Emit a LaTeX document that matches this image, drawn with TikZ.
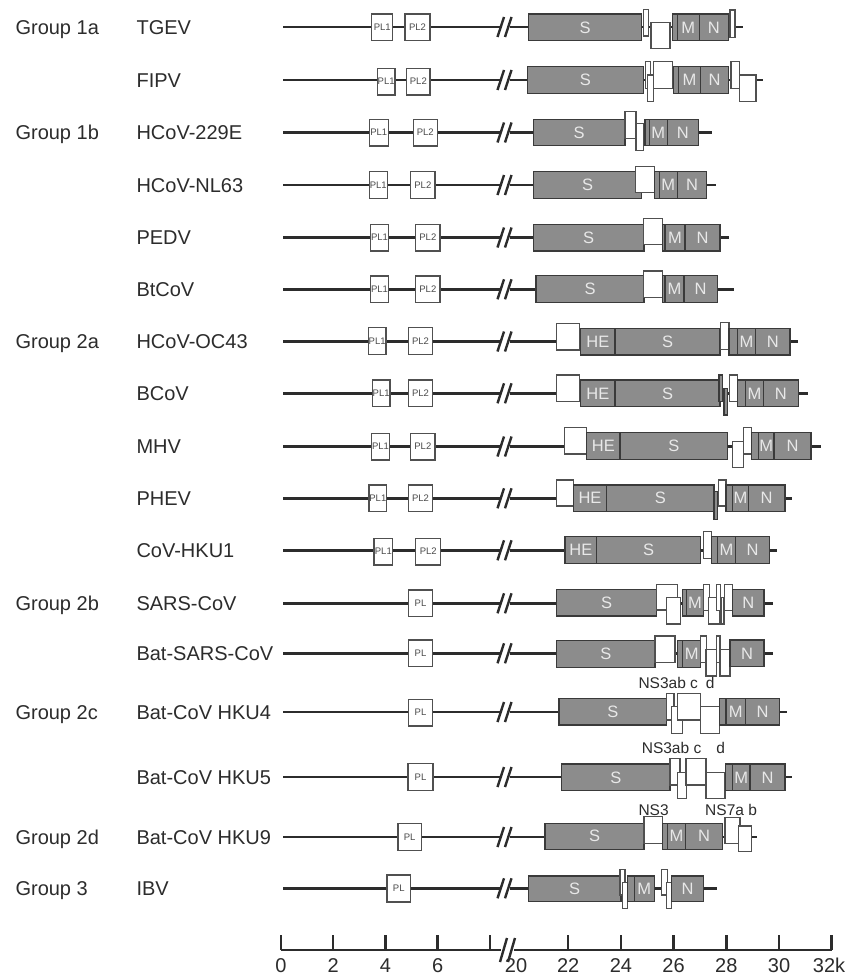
\documentclass[tikz,border=0pt]{standalone}
\usepackage{fontspec}
\setmainfont{Liberation Sans}
\usepackage{xcolor}
\usetikzlibrary{positioning}

\definecolor{ink}{HTML}{2C2C2C}
\definecolor{boxedge}{HTML}{3A3A3A}
\definecolor{orfedge}{HTML}{505050}
\definecolor{genefill}{HTML}{8C8C8C}
\definecolor{genetext}{HTML}{E8E8E8}
\definecolor{pltext}{HTML}{4A4A4A}

\newcounter{bx}
% box from x1 to x2 and y1 to y2 (y runs downwards)
\newcommand{\bx}[6][gene]{\stepcounter{bx}%
  \node[#1,minimum width={#3-#2},minimum height={#5-#4}] (bx\arabic{bx}) at ({(#2+#3)/2},{(#4+#5)/2}) {#6};}
% genome line with the break
\newcommand{\genome}[2]{%
  \draw[genome] (283,#1) -- (501,#1) (510,#1) -- (#2,#1);
  \draw[brk] (497.5,#1+10) -- (504,#1-10) (505,#1+10) -- (511.5,#1-10);}

\begin{document}
\begin{tikzpicture}[x=1pt,y=-1pt,
  genome/.style={draw=ink,line width=2.5pt},
  brk/.style={draw=ink,line width=2.4pt},
  gene/.style={draw=boxedge,fill=genefill,line width=1.2pt,inner sep=0pt,text=genetext,font=\fontsize{16.5}{16.5}\selectfont},
  orf/.style={draw=orfedge,fill=white,line width=1.2pt,inner sep=0pt},
  pl/.style={orf,text=pltext,font=\fontsize{9.5}{9.5}\selectfont},
  grp/.style={anchor=base west,text=ink,font=\fontsize{20}{20}\selectfont},
  nslab/.style={anchor=base west,text=ink,font=\fontsize{15.5}{15.5}\selectfont},
  ticklab/.style={anchor=base,text=ink,font=\fontsize{20}{20}\selectfont}]
\useasboundingbox[fill=white] (0,0) rectangle (847,977);

% group and virus names
\node[grp] (g1a) at (12,34) {Group 1a};
\node[grp] (g1b) at (12,139.5) {Group 1b};
\node[grp] (g2a) at (12,348.5) {Group 2a};
\node[grp] (g2b) at (12,610.3) {Group 2b};
\node[grp] (g2c) at (12,719) {Group 2c};
\node[grp] (g2d) at (12,844) {Group 2d};
\node[grp] (g3) at (12,895.3) {Group 3};
\node[grp] (tgev) at (133,34) {TGEV};
\node[grp] (fipv) at (133,87) {FIPV};
\node[grp] (e229) at (133,139.5) {HCoV-229E};
\node[grp] (nl63) at (133,192) {HCoV-NL63};
\node[grp] (pedv) at (133,244.5) {PEDV};
\node[grp] (btcov) at (133,296.3) {BtCoV};
\node[grp] (oc43) at (133,348.5) {HCoV-OC43};
\node[grp] (bcov) at (133,400.3) {BCoV};
\node[grp] (mhv) at (133,453.5) {MHV};
\node[grp] (phev) at (133,505.3) {PHEV};
\node[grp] (hku1) at (133,557.3) {CoV-HKU1};
\node[grp] (sars) at (133,610.3) {SARS-CoV};
\node[grp] (batsars) at (133,660.3) {Bat-SARS-CoV};
\node[grp] (hku4) at (133,719) {Bat-CoV HKU4};
\node[grp] (hku5) at (133,784) {Bat-CoV HKU5};
\node[grp] (hku9) at (133,844) {Bat-CoV HKU9};
\node[grp] (ibv) at (133,895.3) {IBV};

% TGEV
\genome{27}{743}
\bx[pl]{371.7}{392.7}{14}{40.7}{PL1}
\bx[pl]{405}{430}{14}{40.7}{PL2}
\bx{528.3}{641.7}{14}{40.7}{S}
\bx[orf]{643.3}{648.3}{9.3}{36}{}
\bx[orf]{651}{670}{22.7}{48.3}{}
\bx{672.7}{677.3}{14}{40.7}{}
\bx{677.3}{699.3}{14}{40.7}{M}
\bx{699.3}{728.3}{14}{40.7}{N}
\bx[orf]{730}{735}{10}{37.3}{}

% FIPV
\genome{80}{762.7}
\bx[pl]{377.3}{395}{68.3}{95}{PL1}
\bx[pl]{406.7}{430}{68.3}{95}{PL2}
\bx{527.3}{643.3}{66.7}{93.3}{S}
\bx[orf]{645.3}{650.7}{61.7}{88.3}{}
\bx[orf]{647.3}{653.3}{75}{101.7}{}
\bx[orf]{653.3}{672.7}{61.7}{88.3}{}
\bx{673.3}{678.3}{66.7}{93.3}{}
\bx{678.3}{700.7}{66.7}{93.3}{M}
\bx{700.7}{728.3}{66.7}{93.3}{N}
\bx[orf]{731}{739.3}{61.7}{88.3}{}
\bx[orf]{739.3}{756}{75}{101.7}{}

% HCoV-229E
\genome{132.5}{711.7}
\bx[pl]{369.3}{388.3}{119.3}{146}{PL1}
\bx[pl]{413.3}{437.3}{119.3}{146}{PL2}
\bx{533.3}{625}{119.3}{145.5}{S}
\bx[orf]{625}{636}{111.7}{138.3}{}
\bx[orf]{636}{643.3}{123.3}{150.7}{}
\bx{645}{649.3}{119.3}{145.5}{}
\bx{649.3}{667.3}{119.3}{145.5}{M}
\bx{667.3}{698.3}{119.3}{145.5}{N}

% HCoV-NL63
\genome{185}{716}
\bx[pl]{369.3}{387.3}{171.7}{198.3}{PL1}
\bx[pl]{410.7}{435}{171.7}{198.3}{PL2}
\bx{533.3}{641.7}{171.7}{198.3}{S}
\bx[orf]{635.7}{654.3}{166.7}{192.7}{}
\bx{654.3}{659.3}{171.7}{198.3}{}
\bx{659.3}{677.3}{171.7}{198.3}{M}
\bx{677.3}{706.7}{171.7}{198.3}{N}

% PEDV
\genome{237.5}{729.3}
\bx[pl]{370.7}{388.3}{224.3}{251}{PL1}
\bx[pl]{415.7}{440}{224.3}{251}{PL2}
\bx{533.3}{644}{224.3}{251}{S}
\bx[orf]{643.3}{662.3}{218.3}{244.3}{}
\bx{662.3}{665}{224.3}{251}{}
\bx{665}{685}{224.3}{251}{M}
\bx{685}{720}{224.3}{251}{N}

% BtCoV
\genome{289.3}{734}
\bx[pl]{370.7}{388.3}{276}{302.7}{PL1}
\bx[pl]{415.7}{440}{276}{302.7}{PL2}
\bx{536}{644}{275.7}{302.3}{S}
\bx[orf]{643.3}{662.3}{271}{297.7}{}
\bx{662.3}{665}{275.7}{302.3}{}
\bx{665}{684}{275.7}{302.3}{M}
\bx{684}{717.3}{275.7}{302.3}{N}

% HCoV-OC43
\genome{341.5}{798.3}
\bx[pl]{368.3}{386}{327.3}{354.3}{PL1}
\bx[pl]{408.3}{432.7}{327.3}{354.3}{PL2}
\bx[orf]{556.7}{579.3}{323.3}{350}{}
\bx{580.7}{615}{328.3}{355}{HE}
\bx{615}{720}{328.3}{355}{S}
\bx[orf]{720.7}{729}{322.7}{349.3}{}
\bx{729}{737.3}{328.3}{355}{}
\bx{737.3}{755.7}{328.3}{355}{M}
\bx{755.7}{790}{328.3}{355}{N}

% BCoV
\genome{393.3}{808.3}
\bx[pl]{372.3}{390}{380}{406.7}{PL1}
\bx[pl]{408.3}{432.7}{380}{406.7}{PL2}
\bx[orf]{556.7}{579.3}{375}{401.7}{}
\bx{580.7}{615}{380}{406.7}{HE}
\bx{615}{720}{380}{406.7}{S}
\bx{719}{722.3}{375}{401.7}{}
\bx{724}{727.7}{388.3}{415}{}
\bx[orf]{729.3}{737.7}{375}{401.7}{}
\bx{737.7}{745.7}{380}{406.7}{}
\bx{745.7}{763.3}{380}{406.7}{M}
\bx{763.3}{798.3}{380}{406.7}{N}

% MHV
\genome{446.5}{821}
\bx[pl]{371.7}{389.3}{433.3}{460}{PL1}
\bx[pl]{410.7}{435}{433.3}{460}{PL2}
\bx[orf]{564.3}{586.7}{427.7}{454}{}
\bx{586.7}{620}{432.7}{459.3}{HE}
\bx{620}{727.7}{432.7}{459.3}{S}
\bx[orf]{732.3}{743.3}{441.7}{467.3}{}
\bx[orf]{743.3}{751.7}{427.7}{454}{}
\bx{751.7}{758.3}{432.7}{459.3}{}
\bx{758.3}{774}{432.7}{459.3}{M}
\bx{774}{811}{432.7}{459.3}{N}

% PHEV
\genome{498.3}{791.7}
\bx[pl]{369}{386.7}{485}{511.7}{PL1}
\bx[pl]{408.3}{432.7}{485}{511.7}{PL2}
\bx[orf]{556.7}{573.3}{480}{506}{}
\bx{573.3}{606.7}{485}{511.5}{HE}
\bx{606.7}{714}{485}{511.5}{S}
\bx{714}{717.3}{491.7}{519.3}{}
\bx[orf]{718.3}{726}{480}{506}{}
\bx{726}{732.7}{485}{511.5}{}
\bx{732.7}{748.3}{485}{511.5}{M}
\bx{748.3}{785}{485}{511.5}{N}

% CoV-HKU1
\genome{550.3}{776.7}
\bx[pl]{374}{392.7}{538.3}{565}{PL1}
\bx[pl]{415.7}{440.7}{538.3}{565}{PL2}
\bx{565}{596.7}{536.7}{563.3}{HE}
\bx{596.7}{700.7}{536.7}{563.3}{S}
\bx[orf]{703.3}{711.7}{531.7}{558.3}{}
\bx{711.7}{717.3}{536.7}{563.3}{}
\bx{717.3}{735.7}{536.7}{563.3}{M}
\bx{735.7}{769.3}{536.7}{563.3}{N}

% SARS-CoV
\genome{603.3}{772.7}
\bx[pl]{408.3}{432.7}{590}{616.7}{PL}
\bx{556.7}{656.7}{589.3}{616}{S}
\bx[orf]{656.7}{677.3}{584.3}{610}{}
\bx[orf]{666.7}{680.7}{597.7}{624}{}
\bx{682.7}{686.7}{589.3}{616}{}
\bx{686.7}{703.3}{589.3}{616}{M}
\bx[orf]{703.3}{709.3}{584.3}{610.7}{}
\bx[orf]{708.3}{719.3}{597.7}{624}{}
\bx[orf]{716.7}{720.3}{584.3}{610.7}{}
\bx[orf]{721}{724}{597.7}{624}{}
\bx[orf]{724.3}{732.7}{584.3}{610.7}{}
\bx{732.7}{764}{589.3}{616}{N}

% Bat-SARS-CoV
\genome{653.3}{773.3}
\bx[pl]{408.3}{432.7}{640}{666.7}{PL}
\bx{556.7}{655}{640.7}{667.3}{S}
\bx[orf]{655}{675}{636}{662.7}{}
\bx{677.3}{682.7}{640.7}{667.3}{}
\bx{682.7}{700.7}{640.7}{667.3}{M}
\bx[orf]{700.7}{706.7}{636}{662.7}{}
\bx[orf]{706}{716.7}{649.3}{676}{}
\bx[orf]{716.7}{720}{636}{662.7}{}
\bx[orf]{720}{730}{649.3}{676}{}
\bx{730}{764}{640}{666.7}{N}

% Bat-CoV HKU4
\genome{712}{787.3}
\bx[pl]{408.3}{432.7}{699.3}{726}{PL}
\node[nslab] (ns4) at (635,688.5) {NS3ab c\hspace{8pt}d};
\bx{559}{666.7}{698.3}{725}{S}
\bx[orf]{666.7}{674}{693.3}{720}{}
\bx[orf]{671.7}{682.7}{706.7}{733.3}{}
\bx[orf]{677.3}{700.7}{693.3}{720}{}
\bx[orf]{700.7}{719.3}{706.7}{733.3}{}
\bx{719.3}{726}{698.3}{725}{}
\bx{726}{745.7}{698.3}{725}{M}
\bx{745.7}{779.3}{698.3}{725}{N}

% Bat-CoV HKU5
\genome{777}{791.7}
\bx[pl]{408}{433}{763.5}{790.5}{PL}
\node[nslab] (ns5) at (638.3,753.8) {NS3ab c\hspace{15pt}d};
\bx{561.7}{670}{764}{790.7}{S}
\bx[orf]{670}{680}{758.3}{785}{}
\bx[orf]{677.3}{686.7}{772.7}{798.3}{}
\bx[orf]{686}{706}{758.3}{785}{}
\bx[orf]{706}{725}{772.7}{798.3}{}
\bx{725.5}{732.7}{764}{790.7}{}
\bx{732.7}{750}{764}{790.7}{M}
\bx{750}{785}{764}{790.7}{N}

% Bat-CoV HKU9
\genome{837}{756.7}
\bx[pl]{398}{421.4}{823.5}{850.5}{PL}
\node[nslab] (ns3) at (635,815.5) {NS3};
\node[nslab] (ns7) at (701.7,815.5) {NS7a b};
\bx{545}{644}{823.3}{849.3}{S}
\bx[orf]{644}{662.3}{816.7}{843.3}{}
\bx{662.3}{667.3}{823.3}{849.3}{}
\bx{667.3}{685.7}{823.3}{849.3}{M}
\bx{685.7}{722.3}{823.3}{849.3}{N}
\bx[orf]{725}{740}{817.3}{843.3}{}
\bx[orf]{738.3}{751.7}{826}{851.7}{}

% IBV
\genome{888.3}{716.7}
\bx[pl]{387}{410.5}{875}{902}{PL}
\bx{528.3}{621}{876}{901.7}{S}
\bx[orf]{620}{625}{869.3}{895}{}
\bx[orf]{622.7}{627.7}{882.7}{908.3}{}
\bx{627.7}{634.3}{876}{901.7}{}
\bx{634.3}{654.3}{876}{901.7}{M}
\bx[orf]{661.7}{667.3}{869.3}{895}{}
\bx[orf]{666.7}{671.7}{882.7}{908.3}{}
\bx{671.7}{703.3}{876}{901.7}{N}

% scale in kb
\draw[genome] (281,950) -- (501,950) (514,950) -- (831.7,950);
\draw[brk] (500,962) -- (507,938) (508,962) -- (515,938);
\foreach \x/\t in {281/0,333.2/2,385.4/4,437.6/6}{
  \draw[genome] (\x,950) -- (\x,935);
  \node[ticklab] (t\t) at (\x,972) {\t};
}
\draw[genome] (489.8,950) -- (489.8,935);
\node[ticklab] (t20) at (516,972) {20};
\foreach \x/\t in {568.2/22,620.9/24,673.6/26,726.3/28,779/30}{
  \draw[genome] (\x,950) -- (\x,935);
  \node[ticklab] (t\t) at (\x,972) {\t};
}
\draw[genome] (831.7,950) -- (831.7,935);
\node[ticklab] (t32) at (829,972) {32k};
\end{tikzpicture}
\end{document}
